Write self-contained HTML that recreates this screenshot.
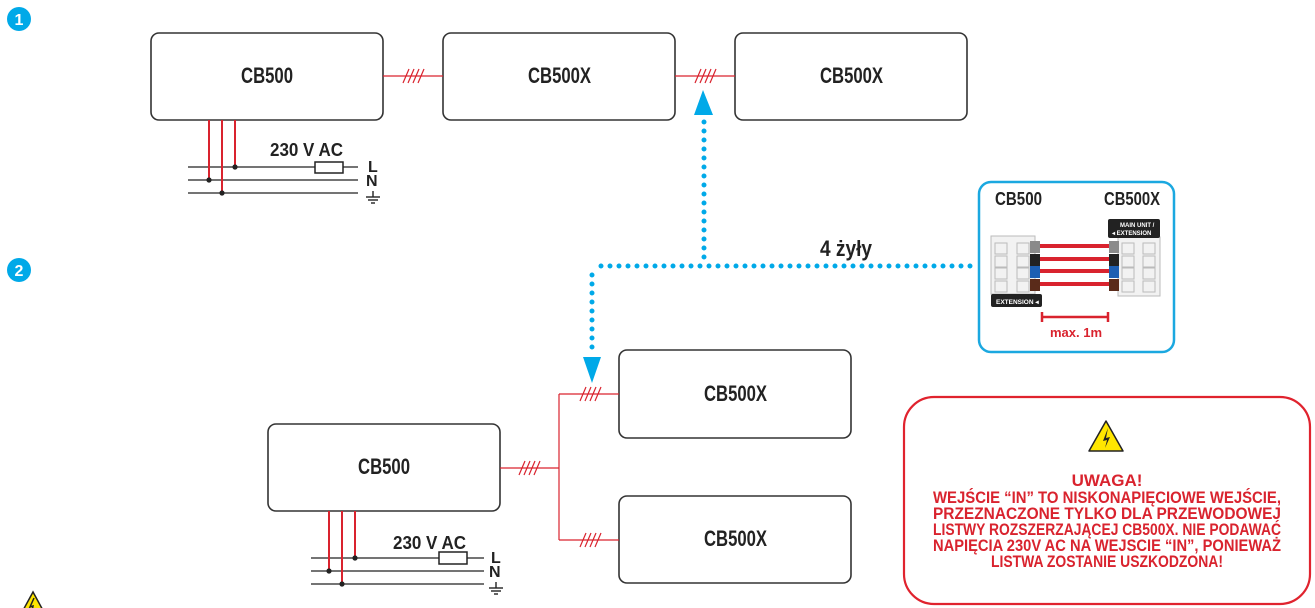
<!DOCTYPE html>
<html><head><meta charset="utf-8"><style>
html,body{margin:0;padding:0;background:#fff;}
svg{display:block;}
text{font-family:"Liberation Sans Narrow","Liberation Sans",sans-serif;font-weight:bold;}
</style></head><body>
<svg width="1315" height="608" viewBox="0 0 1315 608" xmlns="http://www.w3.org/2000/svg">
<defs>
<g id="hash" stroke="#d9232e" stroke-width="1.2">
<line x1="-10" y1="7" x2="-4" y2="-7"/><line x1="-5" y1="7" x2="1" y2="-7"/><line x1="0" y1="7" x2="6" y2="-7"/><line x1="5" y1="7" x2="11" y2="-7"/>
</g>
</defs>
<circle cx="19" cy="19" r="12" fill="#00a9e8"/><text x="19" y="25" font-size="16" fill="#fff" text-anchor="middle" font-family="Liberation Sans">1</text>
<circle cx="19" cy="270" r="12" fill="#00a9e8"/><text x="19" y="276" font-size="16" fill="#fff" text-anchor="middle" font-family="Liberation Sans">2</text>

<g fill="#fff" stroke="#333" stroke-width="1.6">
<rect x="151" y="33" width="232" height="87" rx="8"/>
<rect x="443" y="33" width="232" height="87" rx="8"/>
<rect x="735" y="33" width="232" height="87" rx="8"/>
<rect x="268" y="424" width="232" height="87" rx="8"/>
<rect x="619" y="350" width="232" height="88" rx="8"/>
<rect x="619" y="496" width="232" height="87" rx="8"/>
</g>
<g font-size="22" fill="#222" lengthAdjust="spacingAndGlyphs">
<text x="241" y="83" textLength="52" lengthAdjust="spacingAndGlyphs">CB500</text>
<text x="528" y="83" textLength="63" lengthAdjust="spacingAndGlyphs">CB500X</text>
<text x="820" y="83" textLength="63" lengthAdjust="spacingAndGlyphs">CB500X</text>
<text x="358" y="474" textLength="52" lengthAdjust="spacingAndGlyphs">CB500</text>
<text x="704" y="401" textLength="63" lengthAdjust="spacingAndGlyphs">CB500X</text>
<text x="704" y="546" textLength="63" lengthAdjust="spacingAndGlyphs">CB500X</text>
</g>
<g stroke="#d9232e" stroke-width="1.2" fill="none">
<line x1="383" y1="76" x2="443" y2="76"/>
<line x1="675" y1="76" x2="735" y2="76"/>
<line x1="500" y1="468" x2="559" y2="468"/>
<line x1="559" y1="394" x2="559" y2="540"/>
<line x1="559" y1="394" x2="619" y2="394"/>
<line x1="559" y1="540" x2="619" y2="540"/>
</g>
<use href="#hash" x="413" y="76"/>
<use href="#hash" x="705" y="76"/>
<use href="#hash" x="529" y="468"/>
<use href="#hash" x="590" y="394"/>
<use href="#hash" x="590" y="540"/>

<g stroke="#222" stroke-width="1.2">
<line x1="188" y1="167" x2="358" y2="167"/>
<line x1="188" y1="180" x2="358" y2="180"/>
<line x1="188" y1="193" x2="358" y2="193"/>
<line x1="311" y1="558" x2="484" y2="558"/>
<line x1="311" y1="571" x2="484" y2="571"/>
<line x1="311" y1="584" x2="484" y2="584"/>
</g>
<g stroke="#d9232e" stroke-width="2">
<line x1="209" y1="120" x2="209" y2="180"/>
<line x1="222" y1="120" x2="222" y2="193"/>
<line x1="235" y1="120" x2="235" y2="167"/>
<line x1="329" y1="511" x2="329" y2="571"/>
<line x1="342" y1="511" x2="342" y2="584"/>
<line x1="355" y1="511" x2="355" y2="558"/>
</g>
<g fill="#222">
<circle cx="235" cy="167" r="2.6"/><circle cx="209" cy="180" r="2.6"/><circle cx="222" cy="193" r="2.6"/>
<circle cx="355" cy="558" r="2.6"/><circle cx="329" cy="571" r="2.6"/><circle cx="342" cy="584" r="2.6"/>
</g>
<g fill="#fff" stroke="#222" stroke-width="1.5">
<rect x="315" y="162" width="28" height="11"/>
<rect x="439" y="552" width="28" height="12"/>
</g>
<g font-size="18" fill="#222">
<text x="270" y="156" textLength="73" lengthAdjust="spacingAndGlyphs">230 V AC</text>
<text x="393" y="549" textLength="73" lengthAdjust="spacingAndGlyphs">230 V AC</text>
<text x="368" y="172" font-size="16">L</text>
<text x="366" y="186" font-size="16">N</text>
<text x="491" y="563" font-size="16">L</text>
<text x="489" y="577" font-size="16">N</text>
</g>
<g stroke="#222" stroke-width="1.4">
<line x1="373" y1="191" x2="373" y2="197"/><line x1="366" y1="197" x2="380" y2="197"/><line x1="368" y1="200" x2="378" y2="200"/><line x1="371" y1="203" x2="375" y2="203"/>
<line x1="496" y1="582" x2="496" y2="588"/><line x1="489" y1="588" x2="503" y2="588"/><line x1="491" y1="591" x2="501" y2="591"/><line x1="494" y1="594" x2="498" y2="594"/>
</g>

<g stroke="#00a9e8" stroke-width="5" stroke-linecap="round" stroke-dasharray="0 9" fill="none">
<line x1="704" y1="122" x2="704" y2="266"/>
<line x1="970" y1="266" x2="592" y2="266"/>
<line x1="592" y1="275" x2="592" y2="352"/>
</g>
<polygon points="703,90 694,115 713,115" fill="#00a9e8"/>
<polygon points="592,383 583,357 601,357" fill="#00a9e8"/>
<text x="820" y="256" font-size="22" fill="#222" textLength="52" lengthAdjust="spacingAndGlyphs">4 żyły</text>

<rect x="979" y="182" width="195" height="170" rx="12" fill="#fff" stroke="#1ba8e0" stroke-width="2.5"/>
<text x="995" y="205" font-size="18" fill="#222" textLength="47" lengthAdjust="spacingAndGlyphs">CB500</text>
<text x="1104" y="205" font-size="18" fill="#222" textLength="56" lengthAdjust="spacingAndGlyphs">CB500X</text>
<rect x="991" y="236" width="44" height="58" fill="#f2f2f2" stroke="#bbb"/>
<g fill="none" stroke="#bbb"><rect x="995" y="243" width="12" height="11"/><rect x="995" y="256" width="12" height="11"/><rect x="995" y="268" width="12" height="11"/><rect x="995" y="281" width="12" height="11"/><rect x="1017" y="243" width="12" height="11"/><rect x="1017" y="256" width="12" height="11"/><rect x="1017" y="268" width="12" height="11"/><rect x="1017" y="281" width="12" height="11"/></g>
<rect x="1030" y="241" width="10" height="12" fill="#8a8a8a"/>
<rect x="1030" y="254" width="10" height="12" fill="#222"/>
<rect x="1030" y="266" width="10" height="12" fill="#1d5fb3"/>
<rect x="1030" y="279" width="10" height="12" fill="#5a2b1a"/>
<rect x="991" y="294" width="51" height="13" rx="2" fill="#222"/>
<text x="996" y="304" font-size="6.5" fill="#fff" font-family="Liberation Sans" font-weight="normal">EXTENSION ◂</text>
<rect x="1118" y="237" width="42" height="59" fill="#f2f2f2" stroke="#bbb"/>
<g fill="none" stroke="#bbb"><rect x="1122" y="243" width="12" height="11"/><rect x="1122" y="256" width="12" height="11"/><rect x="1122" y="268" width="12" height="11"/><rect x="1122" y="281" width="12" height="11"/><rect x="1143" y="243" width="12" height="11"/><rect x="1143" y="256" width="12" height="11"/><rect x="1143" y="268" width="12" height="11"/><rect x="1143" y="281" width="12" height="11"/></g>
<rect x="1108" y="219" width="52" height="19" rx="2" fill="#222"/>
<text x="1120" y="227" font-size="6" fill="#fff" font-family="Liberation Sans" font-weight="normal">MAIN UNIT /</text>
<text x="1112" y="235" font-size="6" fill="#fff" font-family="Liberation Sans" font-weight="normal">◂ EXTENSION</text>
<rect x="1109" y="241" width="10" height="12" fill="#8a8a8a"/>
<rect x="1109" y="254" width="10" height="12" fill="#222"/>
<rect x="1109" y="266" width="10" height="12" fill="#1d5fb3"/>
<rect x="1109" y="279" width="10" height="12" fill="#5a2b1a"/>
<g stroke="#d9232e" stroke-width="4">
<line x1="1040" y1="246" x2="1109" y2="246"/>
<line x1="1040" y1="259" x2="1109" y2="259"/>
<line x1="1040" y1="271" x2="1109" y2="271"/>
<line x1="1040" y1="284" x2="1109" y2="284"/>
</g>
<g stroke="#d9232e" stroke-width="2.5">
<line x1="1042" y1="317" x2="1108" y2="317"/>
<line x1="1042" y1="312" x2="1042" y2="322"/>
<line x1="1108" y1="312" x2="1108" y2="322"/>
</g>
<text x="1076" y="337" font-size="13" fill="#d9232e" text-anchor="middle">max. 1m</text>

<rect x="904" y="397" width="406" height="207" rx="30" fill="#fff" stroke="#e0232e" stroke-width="2.2"/>
<polygon points="1106,421 1089,451 1123,451" fill="#ffe600" stroke="#222" stroke-width="1.5" stroke-linejoin="round"/>
<path d="M1108,428 L1103,441 L1107,440 L1105,448 L1110,437 L1106,438 Z" fill="#222"/>
<g font-size="17" fill="#d9232e">
<text x="1107" y="486" text-anchor="middle">UWAGA!</text>
<text x="933" y="503" textLength="348" lengthAdjust="spacingAndGlyphs">WEJŚCIE “IN” TO NISKONAPIĘCIOWE WEJŚCIE,</text>
<text x="933" y="519" textLength="348" lengthAdjust="spacingAndGlyphs">PRZEZNACZONE TYLKO DLA PRZEWODOWEJ</text>
<text x="933" y="535" textLength="348" lengthAdjust="spacingAndGlyphs">LISTWY ROZSZERZAJĄCEJ CB500X. NIE PODAWAĆ</text>
<text x="933" y="551" textLength="348" lengthAdjust="spacingAndGlyphs">NAPIĘCIA 230V AC NA WEJSCIE “IN”, PONIEWAŻ</text>
<text x="991" y="567" textLength="232" lengthAdjust="spacingAndGlyphs">LISTWA ZOSTANIE USZKODZONA!</text>
</g>
<polygon points="33,592 21,614 45,614" fill="#ffe600" stroke="#222" stroke-width="1.5"/>
<path d="M34,598 L30,607 L33,606 L32,612" stroke="#222" stroke-width="1.5" fill="none"/>
</svg>
</body></html>
